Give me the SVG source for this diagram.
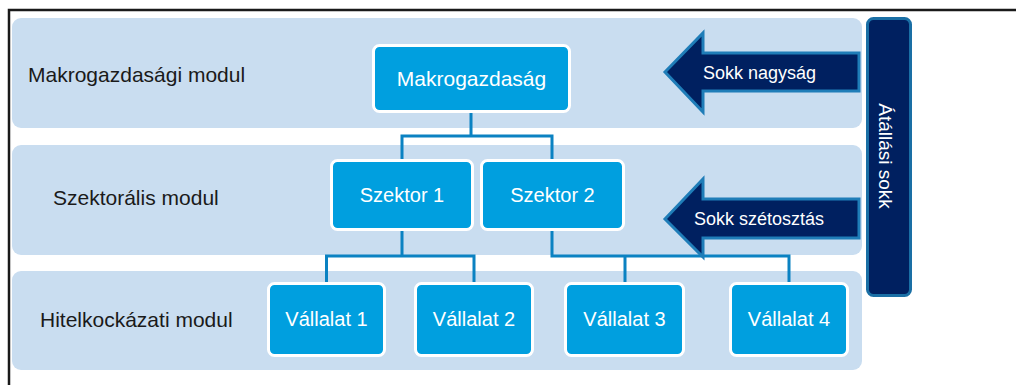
<svg xmlns="http://www.w3.org/2000/svg" width="1016" height="385" viewBox="0 0 1016 385">
<style>
.band{fill:#C9DDF0}
.box{fill:#009FDF;stroke:#FFFFFF;stroke-width:3}
.lbl{font-family:"Liberation Sans",Arial,sans-serif;font-size:21px;fill:#1A1A1A}
.bt{font-family:"Liberation Sans",Arial,sans-serif;font-size:20px;fill:#FFFFFF;text-anchor:middle}
.at{font-family:"Liberation Sans",Arial,sans-serif;font-size:18px;fill:#FFFFFF}
.conn{fill:none;stroke:#0B82C2;stroke-width:3;stroke-linejoin:miter;stroke-linecap:square}
.arrow{fill:#002060;stroke:#1F7DB8;stroke-width:3;stroke-linejoin:miter}
</style>
<rect width="1016" height="385" fill="#FFFFFF"/>
<path d="M9 385 V10 H1016" fill="none" stroke="#1A1A1A" stroke-width="2.5"/>
<g id="bands">
<rect class="band" x="12" y="18" width="850" height="110" rx="9"/>
<rect class="band" x="12" y="145" width="850" height="110" rx="9"/>
<rect class="band" x="12" y="271" width="850" height="99" rx="9"/>
</g>
<g id="labels">
<text class="lbl" x="28" y="82">Makrogazdasági modul</text>
<text class="lbl" x="53" y="205">Szektorális modul</text>
<text class="lbl" x="40" y="327">Hitelkockázati modul</text>
</g>
<g id="connectors">
<path class="conn" d="M471 113 V136 M402 136 H552 M402 136 V159 M552 136 V159"/>
<path class="conn" d="M402 231 V256 M326.5 256 H474 M326.5 256 V282 M474 256 V282"/>
<path class="conn" d="M552 231 V256 H789 M625 256 V282 M789 256 V282"/>
</g>
<g id="makrogazdasag">
<rect class="box" x="373.5" y="45.5" width="196" height="66" rx="6"/>
<text class="bt" x="471.5" y="86" style="font-size:21px">Makrogazdaság</text>
</g>
<g id="szektor1">
<rect class="box" x="331.5" y="160.5" width="141" height="69" rx="6"/>
<text class="bt" x="402" y="202">Szektor 1</text>
</g>
<g id="szektor2">
<rect class="box" x="481.5" y="160.5" width="142" height="69" rx="6"/>
<text class="bt" x="552.5" y="202">Szektor 2</text>
</g>
<g id="vallalat1">
<rect class="box" x="268.5" y="283.5" width="116" height="72" rx="6"/>
<text class="bt" x="326.5" y="326">Vállalat 1</text>
</g>
<g id="vallalat2">
<rect class="box" x="415.5" y="283.5" width="117" height="72" rx="6"/>
<text class="bt" x="474" y="326">Vállalat 2</text>
</g>
<g id="vallalat3">
<rect class="box" x="565.5" y="283.5" width="118" height="72" rx="6"/>
<text class="bt" x="624.5" y="326">Vállalat 3</text>
</g>
<g id="vallalat4">
<rect class="box" x="730.5" y="283.5" width="117" height="72" rx="6"/>
<text class="bt" x="789" y="326">Vállalat 4</text>
</g>
<g id="sokk-nagysag">
<polygon class="arrow" points="665,72 703,33 703,53 859,53 859,91 703,91 703,112"/>
<text class="at" x="703" y="79">Sokk nagyság</text>
</g>
<g id="sokk-szetosztas">
<polygon class="arrow" points="665,219 703,179 703,199 859,199 859,238 703,238 703,257"/>
<text class="at" x="694" y="225">Sokk szétosztás</text>
</g>
<g id="atallasi-sokk">
<rect x="867.5" y="18.5" width="43" height="277" rx="6" fill="#002060" stroke="#1A6FA5" stroke-width="3"/>
<text class="at" transform="translate(879,156) rotate(90)" x="0" y="0" text-anchor="middle" style="font-size:19px">Átállási sokk</text>
</g>
</svg>
